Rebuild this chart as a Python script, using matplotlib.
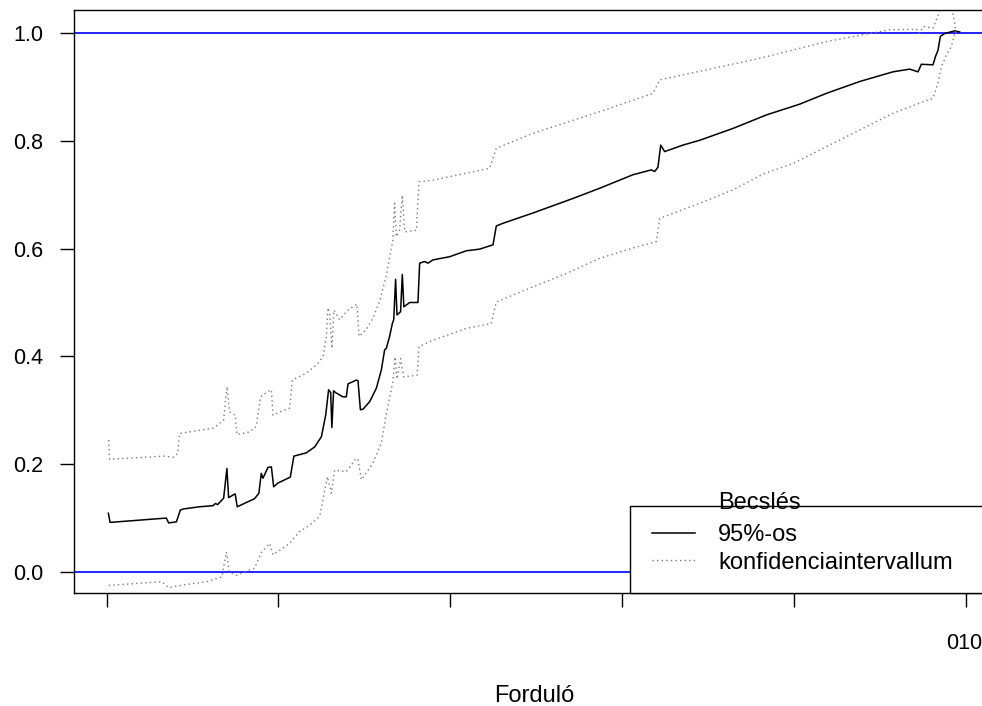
import matplotlib
matplotlib.use("Agg")
import matplotlib.pyplot as plt
from matplotlib.lines import Line2D
from matplotlib.patches import Rectangle

plt.rcParams['font.family'] = ['Liberation Sans', 'DejaVu Sans']

# Becslés (estimate) by forduló
est_x = [1, 2, 34.7, 36.1, 40.6, 42.9, 44.8, 54.1, 61.9, 63.3, 64.6, 68.1, 70.0, 71.0, 74.8,
         76.0, 86.1, 88.6, 90.0, 91.0, 93.9, 95.9, 97.2, 99.7, 106.9, 109.0, 116.2, 121.1, 125.0,
         127.5, 129.2, 130.4, 131.1, 132.1, 133.7, 137.5, 139.5, 140.5, 145.3, 146.3, 147.7, 149.2,
         153.1, 157.0, 159.9, 161.8, 162.8, 164.7, 166.3, 167.1, 168.2, 169.0, 170.1, 171.1, 172.1,
         173.0, 176.4, 181.2, 182.2, 185.1, 187.0, 189.9, 199.7, 209.4, 217.1, 224.9, 226.8, 230.7,
         248.1, 271.4, 287.0, 306.3, 317.0, 319.0, 320.9, 322.5, 324.8, 335.4, 345.2, 364.6, 384.0,
         403.4, 418.9, 438.3, 457.7, 467.4, 472.3, 474.2, 481.0, 482.5, 483.9, 485.3, 487.8, 493.6,
         496.5]
est_y = [0.109, 0.092, 0.100, 0.091, 0.093, 0.115, 0.117, 0.121, 0.123, 0.127, 0.125, 0.137, 0.192,
         0.138, 0.145, 0.121, 0.136, 0.146, 0.183, 0.174, 0.194, 0.195, 0.158, 0.165, 0.176, 0.215,
         0.221, 0.232, 0.251, 0.291, 0.338, 0.333, 0.268, 0.336, 0.332, 0.325, 0.325, 0.349, 0.356,
         0.355, 0.301, 0.302, 0.316, 0.341, 0.375, 0.412, 0.415, 0.437, 0.461, 0.468, 0.543, 0.477,
         0.480, 0.483, 0.552, 0.492, 0.500, 0.500, 0.573, 0.576, 0.573, 0.579, 0.585, 0.596, 0.599,
         0.607, 0.642, 0.647, 0.666, 0.693, 0.712, 0.737, 0.746, 0.743, 0.751, 0.792, 0.780, 0.792,
         0.801, 0.823, 0.848, 0.868, 0.888, 0.910, 0.928, 0.933, 0.928, 0.942, 0.941, 0.957, 0.968,
         0.994, 0.999, 1.004, 1.002]

# upper bound of the 95% interval
upper_x = [1.2, 1.7, 33.2, 39.0, 41.3, 42.5, 62.3, 68.1, 70.0, 71.6, 74.8, 75.8, 83.2, 87.1, 89.6,
           93.9, 95.9, 96.8, 100.7, 106.5, 108.1, 116.2, 122.1, 125.9, 127.9, 128.8, 129.8, 131.1,
           132.3, 135.6, 140.5, 145.7, 146.9, 151.2, 155.0, 158.9, 162.8, 166.6, 167.6, 168.6, 170.5,
           172.1, 173.5, 180.3, 181.8, 189.9, 222.9, 226.8, 248.1, 287.0, 318.0, 321.9, 380.1, 418.9,
           455.8, 471.3, 473.2, 475.2, 481.0, 484.5, 486.1, 490.7, 492.6, 493.6, 494.5]
upper_y = [0.245, 0.209, 0.215, 0.213, 0.220, 0.257, 0.267, 0.282, 0.344, 0.297, 0.291, 0.255, 0.260,
           0.270, 0.325, 0.335, 0.338, 0.291, 0.297, 0.304, 0.356, 0.369, 0.384, 0.399, 0.437, 0.490,
           0.480, 0.415, 0.486, 0.468, 0.486, 0.497, 0.437, 0.450, 0.471, 0.502, 0.550, 0.616, 0.684,
           0.622, 0.634, 0.699, 0.631, 0.634, 0.724, 0.727, 0.749, 0.786, 0.814, 0.854, 0.888, 0.913,
           0.953, 0.984, 1.006, 1.007, 0.999, 1.012, 1.009, 1.037, 1.06, 1.06, 1.037, 1.018, 0.999]

# lower bound of the 95% interval
lower_x = [1.2, 32.2, 36.1, 44.8, 58.4, 67.1, 69.7, 71.3, 75.5, 83.2, 86.1, 90.0, 94.9, 96.8, 99.7,
           106.5, 112.3, 118.2, 124.0, 126.3, 128.5, 130.8, 132.7, 139.5, 145.3, 146.3, 148.3, 155.0,
           158.9, 159.9, 162.8, 166.6, 167.9, 169.0, 171.1, 172.9, 180.7, 181.8, 189.9, 209.4, 223.9,
           226.8, 248.1, 267.6, 287.0, 306.3, 319.9, 321.9, 345.2, 364.6, 382.0, 399.5, 418.9, 438.3,
           457.7, 473.2, 481.0, 483.9, 485.9, 488.8, 491.7, 493.6]
lower_y = [-0.025, -0.018, -0.029, -0.024, -0.018, -0.009, 0.037, 0.000, -0.006, 0.004, 0.007, 0.036,
           0.053, 0.032, 0.038, 0.053, 0.075, 0.087, 0.103, 0.140, 0.177, 0.146, 0.189, 0.186, 0.211,
           0.208, 0.171, 0.202, 0.232, 0.239, 0.294, 0.353, 0.399, 0.358, 0.396, 0.362, 0.365, 0.418,
           0.430, 0.452, 0.461, 0.501, 0.529, 0.554, 0.582, 0.601, 0.613, 0.656, 0.684, 0.709, 0.738,
           0.758, 0.789, 0.820, 0.851, 0.870, 0.879, 0.907, 0.938, 0.959, 0.975, 0.999]

x_ticks = [0, 100, 200, 300, 400, 500]
y_ticks = [0.0, 0.2, 0.4, 0.6, 0.8, 1.0]
y_labels = ['0.0', '0.2', '0.4', '0.6', '0.8', '1.0']

W, H = 982, 706
dotted = (0, (1, 2.3))
ci_color = '#7a7a7a'
tick_fs = 15.5
text_fs = 17

fig = plt.figure(figsize=(W / 100, H / 100), dpi=100)
ax = fig.add_axes([74 / W, 1 - 593 / H, (994 - 74) / W, (593 - 10) / H])

ax.axhline(0, color='blue', lw=1.2)
ax.axhline(1, color='blue', lw=1.2)
ax.plot(est_x, est_y, color='black', lw=1.1)
ax.plot(upper_x, upper_y, color=ci_color, lw=1.0, ls=dotted)
ax.plot(lower_x, lower_y, color=ci_color, lw=1.0, ls=dotted)

ax.set_xlim(-19, 516.5)
ax.set_ylim(-0.039, 1.0427)
ax.set_xticks(x_ticks)
ax.set_xticklabels([])
ax.set_yticks(y_ticks)
ax.set_yticklabels(y_labels)
ax.tick_params(length=10, width=1, direction='out', labelsize=tick_fs, colors='black')
ax.tick_params(axis='y', pad=12)
for s in ax.spines.values():
    s.set_linewidth(1.0)

fig.text(946 / W, 1 - 649 / H, '010', fontsize=tick_fs, ha='left', va='baseline')
fig.text(534 / W, 1 - 702 / H, 'Forduló', fontsize=text_fs, ha='center', va='baseline')

# legend box (bottom right, open towards the right edge)
fig.add_artist(Rectangle((630 / W, 1 - 593 / H), 364 / W, 87 / H, transform=fig.transFigure,
                         facecolor='white', edgecolor='black', lw=1.0, zorder=3))
fig.add_artist(Line2D([652 / W, 695 / W], [1 - 533 / H] * 2, color='black', lw=1.1, zorder=4))
fig.add_artist(Line2D([652 / W, 695 / W], [1 - 560 / H] * 2, color=ci_color, lw=1.0, ls=dotted, zorder=4))
fig.text(718 / W, 1 - 509 / H, 'Becslés', fontsize=text_fs, va='baseline', zorder=5)
fig.text(718 / W, 1 - 541 / H, '95%-os', fontsize=text_fs, va='baseline', zorder=5)
fig.text(718 / W, 1 - 569 / H, 'konfidenciaintervallum', fontsize=text_fs, va='baseline', zorder=5)

fig.savefig('out.png', dpi=100)
